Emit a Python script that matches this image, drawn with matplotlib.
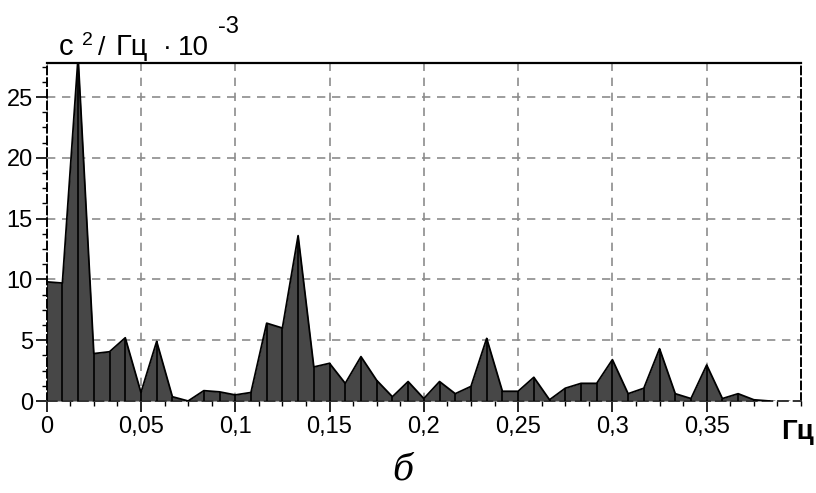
import numpy as np
import matplotlib
matplotlib.use('Agg')
import matplotlib.pyplot as plt
from matplotlib.ticker import MultipleLocator, FuncFormatter

# spectral density, c^2/Hz * 1e-3, sampled every 1/120 Hz
freq_step = 1 / 120
psd = [9.8, 9.7, 28.3, 3.9, 4.05, 5.2, 0.7, 4.9, 0.35, 0.0,
       0.85, 0.75, 0.5, 0.7, 6.4, 6.0, 13.6, 2.8, 3.1, 1.45,
       3.65, 1.7, 0.35, 1.6, 0.2, 1.6, 0.6, 1.2, 5.15, 0.8,
       0.8, 1.95, 0.1, 1.05, 1.45, 1.45, 3.4, 0.6, 1.05, 4.3,
       0.6, 0.2, 2.96, 0.2, 0.6, 0.1, 0.0]
freq = np.arange(len(psd)) * freq_step

x_ticks = [0, 0.05, 0.1, 0.15, 0.2, 0.25, 0.3, 0.35]
y_ticks = [0, 5, 10, 15, 20, 25]

plt.rcParams['font.family'] = ['Liberation Sans', 'DejaVu Sans']

W, H = 816, 493
fig = plt.figure(figsize=(W / 100, H / 100), dpi=100)
ax = fig.add_axes([0.0572, 0.1866, 0.9244, 0.6856])

ax.fill_between(freq, psd, 0, color='#474747', lw=0, zorder=2)
ax.plot(freq, psd, color='black', lw=1.3, zorder=3)
ax.vlines(freq, 0, psd, color='black', lw=1.2, zorder=3)

ax.set_xlim(0, 0.4)
ax.set_ylim(0, 27.8)
ax.set_xticks(x_ticks)
ax.set_yticks(y_ticks)
ax.xaxis.set_minor_locator(MultipleLocator(0.0125))
ax.yaxis.set_minor_locator(MultipleLocator(1.25))

def comma(v, pos):
    return f'{v:g}'.replace('.', ',')

ax.xaxis.set_major_formatter(FuncFormatter(comma))
ax.tick_params(axis='both', which='major', direction='out', length=8,
               width=1.2, labelsize=17, color='black', pad=2)
ax.tick_params(axis='x', which='major', pad=3)
ax.tick_params(axis='both', which='minor', direction='out', length=3.6,
               width=1.0, color='black')

ax.grid(True, which='major', color='#8c8c8c', linestyle=(0, (5, 4)), lw=1.2, zorder=1)

for side in ['left', 'right']:
    ax.spines[side].set_linestyle((0, (4, 2)))
    ax.spines[side].set_linewidth(1.4)
ax.spines['top'].set_linewidth(1.6)
ax.spines['bottom'].set_linestyle((0, (5, 3)))
ax.spines['bottom'].set_color('#333333')
ax.spines['bottom'].set_linewidth(1.4)

# axis unit label above the plot, built from pieces
def put(px, py, s, size):
    fig.text(px / W, 1 - py / H, s, fontsize=size, ha='left', va='baseline')

put(59, 55, 'с', 21)
put(82, 45, '2', 14)
put(98, 55, '/', 19)
put(116, 55, 'Гц', 21)
put(163, 55, '·', 19)
put(178, 55, '10', 20)
put(218, 33, '-3', 17)

fig.text(0.997, 1 - 432 / H, 'Гц', fontsize=20, fontweight='bold', ha='right', va='center')
fig.text(403 / W, 1 - 469 / H, 'б', fontsize=25, style='italic', family='DejaVu Serif',
         ha='center', va='center')

plt.savefig('out.png', dpi=100)
